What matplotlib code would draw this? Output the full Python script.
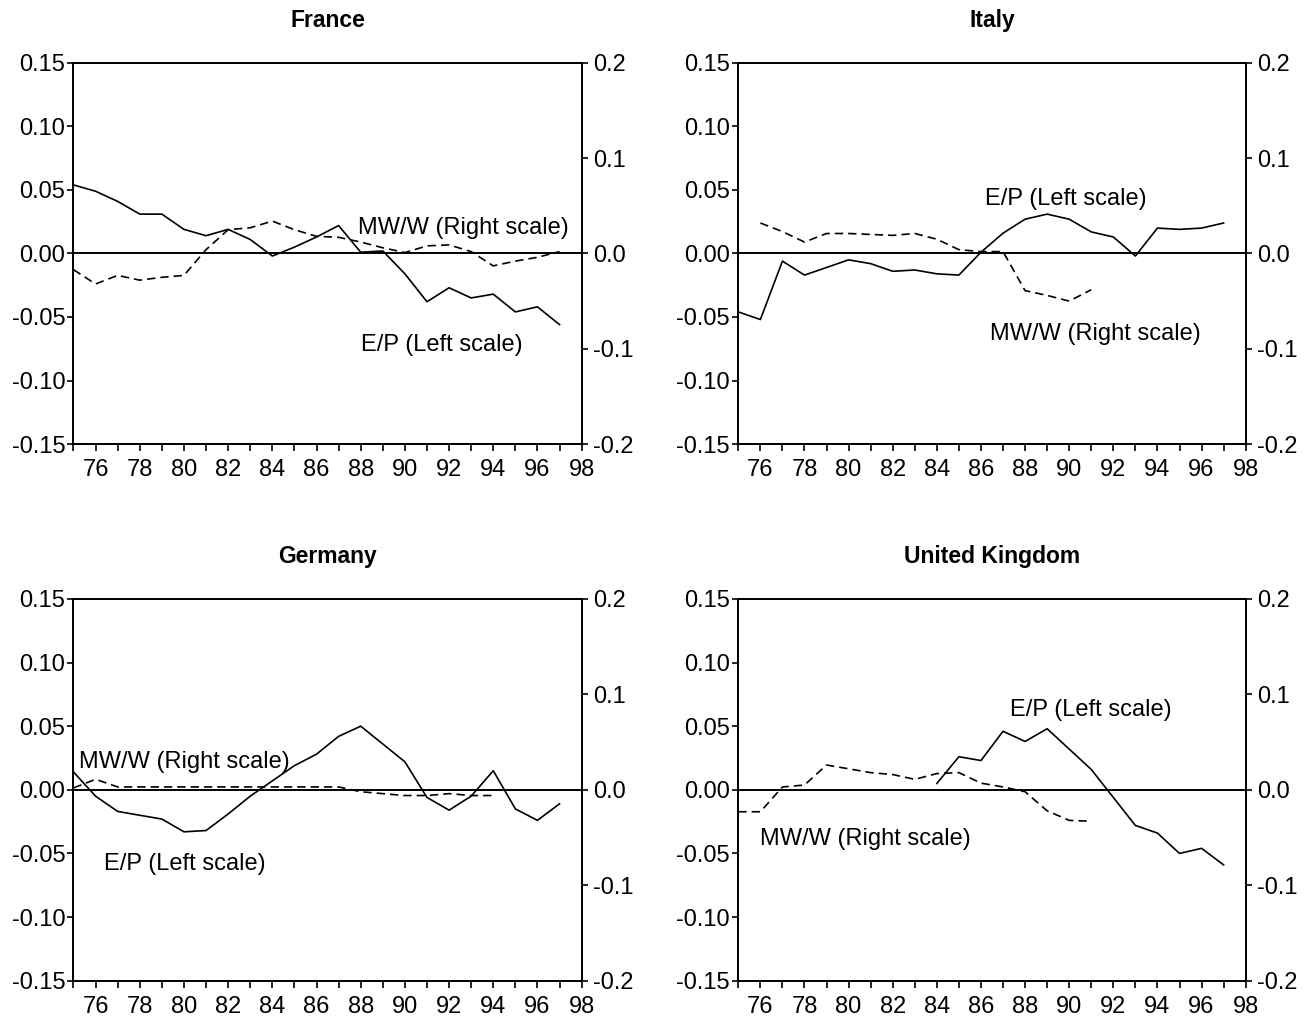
import numpy as np
from matplotlib import pyplot as plt
from matplotlib.ticker import FormatStrFormatter

plt.rcParams['font.family'] = ['Liberation Sans', 'DejaVu Sans']
plt.rcParams['axes.unicode_minus'] = False

# E/P (left scale) and MW/W (right scale), by country
france_ep_years = list(range(75, 98))
france_ep = [0.054, 0.049, 0.041, 0.031, 0.031, 0.019, 0.014, 0.019, 0.011, -0.002,
             0.005, 0.013, 0.022, 0.001, 0.002, -0.016, -0.038, -0.027, -0.035, -0.032,
             -0.046, -0.042, -0.056]
france_mw_years = list(range(75, 98))
france_mw = [-0.017, -0.032, -0.023, -0.028, -0.025, -0.023, 0.004, 0.025, 0.027, 0.034,
             0.025, 0.018, 0.017, 0.012, 0.006, 0.001, 0.008, 0.009, 0.002, -0.013,
             -0.008, -0.004, 0.002]

italy_ep_years = list(range(75, 98))
italy_ep = [-0.046, -0.052, -0.006, -0.017, -0.011, -0.005, -0.008, -0.014, -0.013, -0.016,
            -0.017, 0.001, 0.016, 0.027, 0.031, 0.027, 0.017, 0.013, -0.002, 0.020,
            0.019, 0.020, 0.024]
italy_mw_years = list(range(76, 92))
italy_mw = [0.032, 0.023, 0.012, 0.021, 0.021, 0.020, 0.019, 0.021, 0.015, 0.004,
            0.002, 0.002, -0.039, -0.044, -0.050, -0.038]

germany_ep_years = list(range(75, 98))
germany_ep = [0.014, -0.005, -0.017, -0.020, -0.023, -0.033, -0.032, -0.019, -0.005, 0.007,
              0.019, 0.028, 0.042, 0.050, 0.036, 0.022, -0.006, -0.016, -0.005, 0.015,
              -0.015, -0.024, -0.011]
germany_mw_years = list(range(75, 95))
germany_mw = [0.002, 0.011, 0.003, 0.003, 0.003, 0.003, 0.003, 0.003, 0.003, 0.003,
              0.003, 0.003, 0.003, -0.002, -0.004, -0.006, -0.006, -0.004, -0.006, -0.006]

uk_ep_years = list(range(84, 98))
uk_ep = [0.005, 0.026, 0.023, 0.046, 0.038, 0.048, 0.032, 0.016, -0.006, -0.028,
         -0.034, -0.050, -0.046, -0.059]
uk_mw_years = list(range(75, 92))
uk_mw = [-0.023, -0.023, 0.003, 0.005, 0.026, 0.022, 0.018, 0.016, 0.011, 0.017,
         0.018, 0.007, 0.003, -0.002, -0.022, -0.032, -0.033]

panels = [
    ('France', france_ep_years, france_ep, france_mw_years, france_mw,
     (87.9, 0.020), (88.0, -0.072)),
    ('Italy', italy_ep_years, italy_ep, italy_mw_years, italy_mw,
     (86.4, -0.063), (86.2, 0.043)),
    ('Germany', germany_ep_years, germany_ep, germany_mw_years, germany_mw,
     (75.25, 0.022), (76.4, -0.058)),
    ('United Kingdom', uk_ep_years, uk_ep, uk_mw_years, uk_mw,
     (76.0, -0.039), (87.3, 0.063)),
]

# axes boxes in figure fractions (left, bottom, width, height)
boxes = [
    (0.0561, 0.5664, 0.3879, 0.3721),
    (0.5636, 0.5664, 0.3873, 0.3721),
    (0.0561, 0.0423, 0.3879, 0.3728),
    (0.5636, 0.0423, 0.3873, 0.3728),
]

fig = plt.figure(figsize=(13.1, 10.24), dpi=100)
fs = 17

for (name, ep_x, ep_y, mw_x, mw_y, mw_pos, ep_pos), box in zip(panels, boxes):
    ax = fig.add_axes(box)
    ax2 = ax.twinx()

    ax.plot(ep_x, ep_y, color='black', lw=1.2)
    ax2.plot(mw_x, mw_y, color='black', lw=1.2, dashes=(5, 3))
    ax.axhline(0, color='black', lw=1.4)

    ax.set_xlim(75, 98)
    ax.set_ylim(-0.15, 0.15)
    ax2.set_ylim(-0.2, 0.2)

    ax.set_xticks(range(76, 99, 2))
    ax.set_xticks(range(75, 99, 2), minor=True)
    ax.set_yticks(np.arange(-0.15, 0.151, 0.05))
    ax.yaxis.set_major_formatter(FormatStrFormatter('%.2f'))
    ax2.set_yticks([-0.2, -0.1, 0.0, 0.1, 0.2])
    ax2.yaxis.set_major_formatter(FormatStrFormatter('%.1f'))

    ax.tick_params(axis='x', which='both', direction='out', length=5, width=1.2,
                   labelsize=fs, pad=6)
    ax.tick_params(axis='y', direction='out', length=4, width=1.2, labelsize=fs, pad=2)
    ax2.tick_params(axis='y', direction='out', length=4, width=1.2, labelsize=fs, pad=4)
    for a in (ax, ax2):
        for sp in a.spines.values():
            sp.set_linewidth(1.3)

    ax.text(mw_pos[0], mw_pos[1], 'MW/W (Right scale)', fontsize=fs, va='center', ha='left')
    ax.text(ep_pos[0], ep_pos[1], 'E/P (Left scale)', fontsize=fs, va='center', ha='left')
    ax.text(0.5, 1.112, name, transform=ax.transAxes, fontsize=16.5, fontweight='bold',
            ha='center', va='center')

fig.savefig('out.png', dpi=100)
